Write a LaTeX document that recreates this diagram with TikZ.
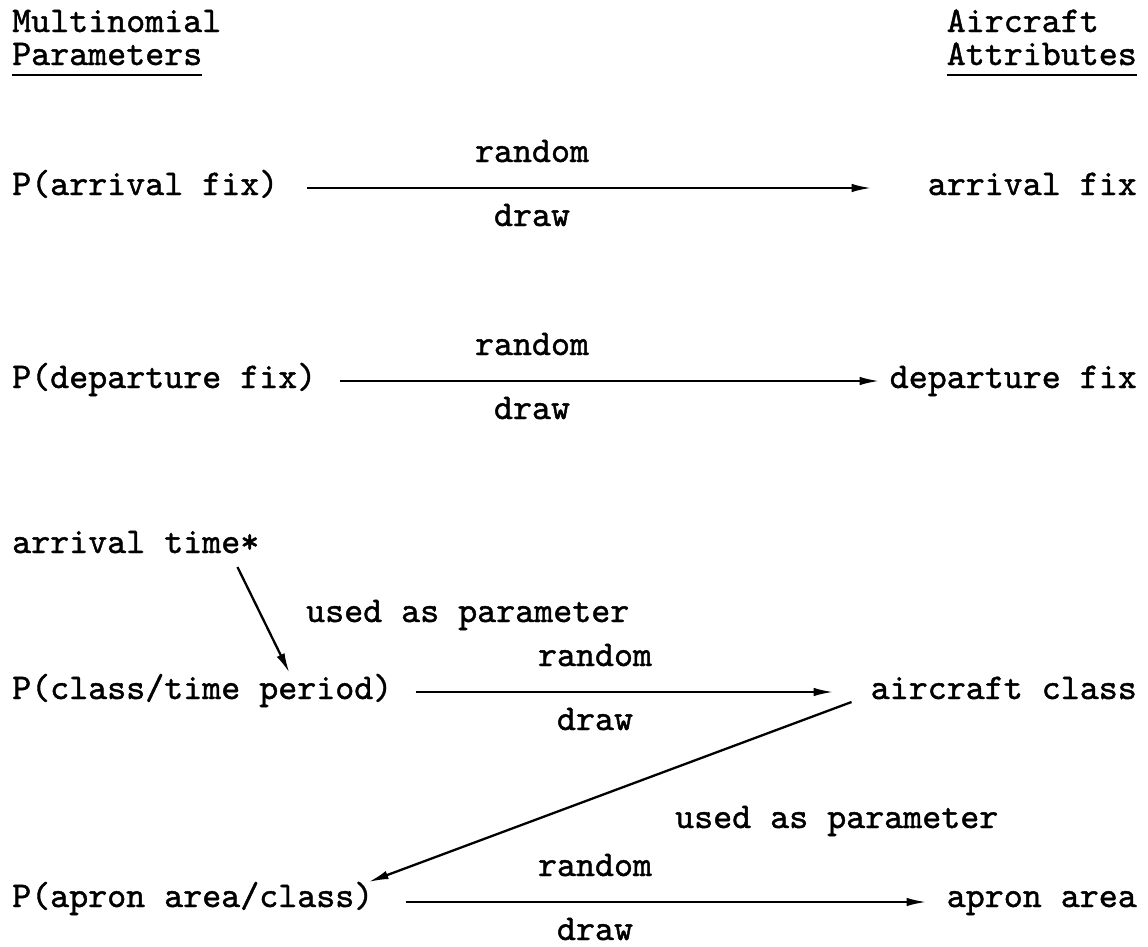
\documentclass[tikz,border=0pt]{standalone}
\usepackage{fontspec}
\newfontfamily\tw{lmmono10-regular.otf}[FakeBold=1.2]
\usetikzlibrary{arrows.meta}
\begin{document}
\begin{tikzpicture}[x=1pt,y=-1pt,
  txt/.style={inner sep=0pt,font=\tw\fontsize{36.2}{40}\selectfont},
  lt/.style={txt,anchor=base west},
  rt/.style={txt,anchor=base east},
  lab/.style={txt,anchor=base},
  arr/.style={line width=2.3pt,-{Latex[length=20pt,width=8.5pt]}},
  uline/.style={line width=2pt}]
\useasboundingbox (0,0) rectangle (1148,946);
% headers
\node[lt] (h1) at (12,32) {Multinomial};
\node[lt] (h2) at (12,65) {Parameters};
\node[rt] (h4) at (1137,65) {Attributes};
\node[lt] (h3) at (h4.base west |- 0,32) {Aircraft};
\draw[uline] ([yshift=-10pt]h2.base west) -- ([yshift=-10pt]h2.base east);
\draw[uline] ([yshift=-10pt]h4.base west) -- ([yshift=-10pt]h4.base east);
% row 1
\node[lt] (p1) at (12,195) {P(arrival fix)};
\node[rt] (a1) at (1137,195) {arrival fix};
\node[lab] (r1) at (532,162) {random};
\node[lab] (d1) at (532,226) {draw};
\draw[arr] ([xshift=29pt,yshift=7pt]p1.base east) -- ([xshift=-56pt,yshift=7pt]a1.base west);
% row 2
\node[lt] (p2) at (12,388) {P(departure fix)};
\node[rt] (a2) at (1137,388) {departure fix};
\node[lab] (r2) at (532,355) {random};
\node[lab] (d2) at (532,419) {draw};
\draw[arr] ([xshift=24pt,yshift=7pt]p2.base east) -- ([xshift=-10pt,yshift=7pt]a2.base west);
% row 3
\node[lt] (t3) at (12,553) {arrival time*};
\node[lt] (u3) at (306,622) {used as parameter};
\node[lt] (p3) at (12,699) {P(class/time period)};
\node[rt] (a3) at (1137,699) {aircraft class};
\node[lab] (r3) at (595,666) {random};
\node[lab] (d3) at (595,730) {draw};
\draw[arr] ([xshift=23pt,yshift=7pt]p3.base east) -- ([xshift=-37pt,yshift=7pt]a3.base west);
\draw[arr] ([xshift=-22pt,yshift=-14pt]t3.base east) -- ([xshift=-103pt,yshift=26pt]p3.base east);
% row 4
\node[lt] (u4) at (675,828) {used as parameter};
\node[lt] (p4) at (12,907) {P(apron area/class)};
\node[rt] (a4) at (1137,907) {apron area};
\node[lab] (r4) at (595,876) {random};
\node[lab] (d4) at (595,940) {draw};
\draw[arr] ([xshift=32pt,yshift=5pt]p4.base east) -- ([xshift=-20pt,yshift=5pt]a4.base west);
\draw[arr] ([xshift=-19pt,yshift=-3pt]a3.base west) -- ([xshift=-5pt,yshift=25pt]p4.base east);
\end{tikzpicture}
\end{document}
